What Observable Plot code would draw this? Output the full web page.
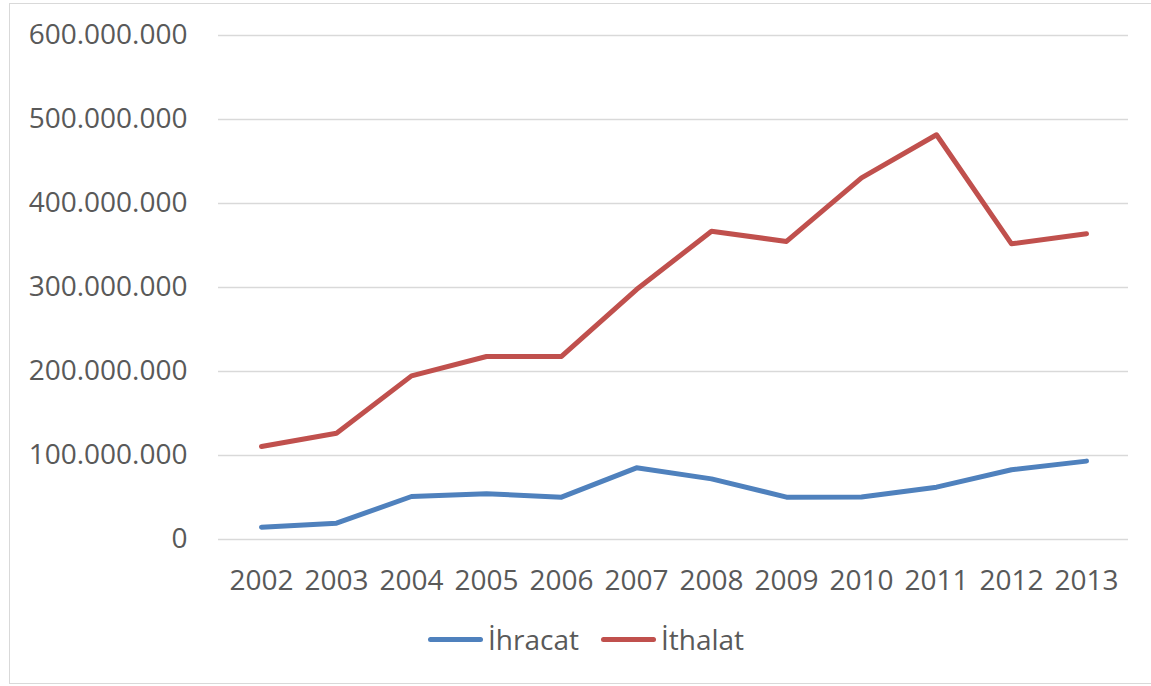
<!DOCTYPE html>
<html>
<head>
<meta charset="utf-8">
<script src="https://cdn.jsdelivr.net/npm/d3@7"></script>
<script src="https://cdn.jsdelivr.net/npm/@observablehq/plot@0.6"></script>
<style>
  html, body { margin: 0; padding: 0; background: #fff; }
  #wrap { position: relative; width: 1151px; height: 686px; overflow: hidden; font-family: "Open Sans", sans-serif; }
  #frame { position: absolute; left: 9px; top: 3px; width: 1200px; height: 681px; border: 1px solid #D9D9D9; box-sizing: border-box; }
  #chart { position: absolute; left: 0; top: 0; }
  #legend { position: absolute; left: 428px; top: 620px; display: flex; align-items: center; font-size: 28px; color: #595959; }
  .item { display: flex; align-items: center; margin-right: 22px; }
  .sw { width: 55px; height: 5px; border-radius: 3px; margin-right: 5px; }
</style>
</head>
<body>
<div id="wrap">
  <div id="frame"></div>
  <div id="chart"></div>
  <div id="legend"></div>
</div>
<script>
const years = ["2002","2003","2004","2005","2006","2007","2008","2009","2010","2011","2012","2013"];
const ihracat = [14700000, 19400000, 51200000, 54400000, 50400000, 85300000, 72200000, 50400000, 50600000, 62300000, 83000000, 93300000];
const ithalat = [110700000, 126500000, 194800000, 217900000, 218000000, 297600000, 367000000, 354800000, 430600000, 481800000, 352000000, 363900000];
const seriesNames = ["İhracat", "İthalat"];
const seriesColors = ["#4F81BD", "#C0504D"];
const yTicks = [0, 100000000, 200000000, 300000000, 400000000, 500000000, 600000000];

const data = [];
years.forEach((y, i) => {
  data.push({year: y, value: ihracat[i], series: seriesNames[0]});
  data.push({year: y, value: ithalat[i], series: seriesNames[1]});
});

const trLocale = d3.formatLocale({decimal: ",", thousands: ".", grouping: [3], currency: ["", ""]});
const fmt = trLocale.format(",d");

const chart = Plot.plot({
  width: 1151,
  height: 610,
  marginLeft: 218,
  marginRight: 23,
  marginTop: 35,
  marginBottom: 71,
  style: {fontFamily: "'Open Sans', sans-serif", fontSize: "28px", color: "#595959", background: "transparent", overflow: "visible"},
  x: {type: "point", domain: years, padding: 0.5},
  y: {domain: [0, 600000000]},
  color: {domain: seriesNames, range: seriesColors},
  marks: [
    Plot.gridY(yTicks, {stroke: "#D9D9D9", strokeOpacity: 1, strokeWidth: 1.5}),
    Plot.axisY(yTicks, {tickSize: 0, tickPadding: 31, tickFormat: fmt, fontSize: 28, label: null}),
    Plot.axisX({tickSize: 0, tickPadding: 31, fontSize: 28, label: null}),
    Plot.line(data, {x: "year", y: "value", z: "series", stroke: "series", strokeWidth: 5, strokeLinecap: "round", strokeLinejoin: "round"})
  ]
});
document.getElementById("chart").appendChild(chart);

const legend = document.getElementById("legend");
seriesNames.forEach((n, i) => {
  const it = document.createElement("div");
  it.className = "item";
  const sw = document.createElement("div");
  sw.className = "sw";
  sw.style.background = seriesColors[i];
  const t = document.createElement("span");
  t.textContent = n;
  it.appendChild(sw);
  it.appendChild(t);
  legend.appendChild(it);
});
</script>
</body>
</html>
